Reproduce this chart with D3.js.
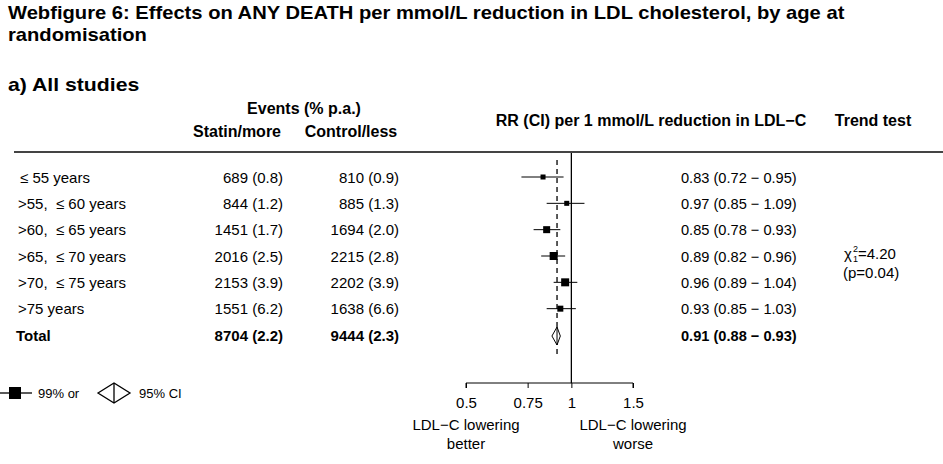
<!DOCTYPE html>
<html>
<head>
<meta charset="utf-8">
<script src="https://cdn.jsdelivr.net/npm/d3@7"></script>
<style>
body { margin: 0; background: #fff; }
svg text { font-family: "Liberation Sans", Arial, sans-serif; fill: #000; }
</style>
</head>
<body>
<svg id="chart" width="943" height="464"></svg>
<script>
// data
var groups = ["\u2264 55 years", ">55, \u00a0\u2264 60 years", ">60, \u00a0\u2264 65 years", ">65, \u00a0\u2264 70 years", ">70, \u00a0\u2264 75 years", ">75 years"];
var statinEvents = ["689 (0.8)", "844 (1.2)", "1451 (1.7)", "2016 (2.5)", "2153 (3.9)", "1551 (6.2)"];
var controlEvents = ["810 (0.9)", "885 (1.3)", "1694 (2.0)", "2215 (2.8)", "2202 (3.9)", "1638 (6.6)"];
var rr = [0.83, 0.97, 0.85, 0.89, 0.96, 0.93];
var ciLow = [0.72, 0.85, 0.78, 0.82, 0.89, 0.85];
var ciHigh = [0.95, 1.09, 0.93, 0.96, 1.04, 1.03];
var boxSize = [5, 5, 7, 8, 8, 6];
var total = { label: "Total", statin: "8704 (2.2)", control: "9444 (2.3)", rr: 0.91, lo: 0.88, hi: 0.93 };
var axisTicks = [0.5, 0.75, 1, 1.5];

var svg = d3.select("#chart");
var x = d3.scaleLog().domain([0.5, 1.5]).range([466, 633]);
var rowY = d3.scalePoint().domain(d3.range(7)).range([177, 335]);

function fmt(v) { return v.toFixed(2); }
function rrText(v, lo, hi) { return fmt(v) + " (" + fmt(lo) + " \u2212 " + fmt(hi) + ")"; }

// text helper, sx stretches horizontally
function label(parent, tx, ty, str, size, opts) {
	opts = opts || {};
	var g = parent.append("g").attr("transform", "translate(" + tx + "," + ty + ") scale(" + (opts.sx || 1) + ",1)");
	var t = g.append("text").attr("x", 0).attr("y", 0).attr("font-size", size)
		.attr("text-anchor", opts.anchor || "start")
		.attr("font-weight", opts.bold ? "bold" : "normal")
		.text(str);
	return t;
}

// titles
label(svg, 8, 19, "Webfigure 6: Effects on ANY DEATH per mmol/L reduction in LDL cholesterol, by age at", 18, { bold: true, sx: 1.12 });
label(svg, 8, 41, "randomisation", 18, { bold: true, sx: 1.12 });
label(svg, 8, 91, "a) All studies", 18, { bold: true, sx: 1.18 });

// column headers
label(svg, 304, 114, "Events (% p.a.)", 16, { bold: true, anchor: "middle" });
label(svg, 237, 137, "Statin/more", 16, { bold: true, anchor: "middle" });
label(svg, 351, 137, "Control/less", 16, { bold: true, anchor: "middle" });
label(svg, 651, 126, "RR (CI) per 1 mmol/L reduction in LDL\u2212C", 16, { bold: true, anchor: "middle" });
label(svg, 873, 126, "Trend test", 16, { bold: true, anchor: "middle" });

svg.append("line").attr("x1", 14).attr("x2", 943).attr("y1", 152).attr("y2", 152)
	.attr("stroke", "#444").attr("stroke-width", 2);

// table rows
groups.forEach(function(g, i) {
	var y = rowY(i) + 5.5;
	label(svg, i == 0 ? 20 : 18, y, g, 15);
	label(svg, 283, y, statinEvents[i], 15, { anchor: "end" });
	label(svg, 399, y, controlEvents[i], 15, { anchor: "end" });
	label(svg, 681, y, rrText(rr[i], ciLow[i], ciHigh[i]), 15, { sx: 0.975 });
});
var ty = rowY(6) + 5.5;
label(svg, 16, ty, total.label, 15, { bold: true });
label(svg, 283, ty, total.statin, 15, { bold: true, anchor: "end" });
label(svg, 399, ty, total.control, 15, { bold: true, anchor: "end" });
label(svg, 681, ty, rrText(total.rr, total.lo, total.hi), 15, { bold: true, sx: 0.975 });

// trend test: chi-squared with stacked super/subscript
svg.append("text").attr("x", 844).attr("y", 259).attr("font-size", 15).text("\u03c7");
svg.append("text").attr("x", 853).attr("y", 252).attr("font-size", 9).text("2");
svg.append("text").attr("x", 853).attr("y", 262).attr("font-size", 9).text("1");
svg.append("text").attr("x", 858).attr("y", 259).attr("font-size", 15).text("=4.20");
svg.append("text").attr("x", 843).attr("y", 278).attr("font-size", 15).text("(p=0.04)");

// reference lines
svg.append("line").attr("x1", x(1)).attr("x2", x(1)).attr("y1", 153).attr("y2", 383)
	.attr("stroke", "#000").attr("stroke-width", 1.3);
svg.append("line").attr("x1", x(total.rr)).attr("x2", x(total.rr)).attr("y1", 160).attr("y2", 354)
	.attr("stroke", "#000").attr("stroke-width", 1.3).attr("stroke-dasharray", "5,4");

// CI lines and boxes
var plot = svg.append("g");
plot.selectAll("line.ci").data(rr).enter().append("line").attr("class", "ci")
	.attr("x1", function(d, i) { return x(ciLow[i]); })
	.attr("x2", function(d, i) { return x(ciHigh[i]); })
	.attr("y1", function(d, i) { return rowY(i); })
	.attr("y2", function(d, i) { return rowY(i); })
	.attr("stroke", "#000").attr("stroke-width", 1);
plot.selectAll("rect.box").data(rr).enter().append("rect").attr("class", "box")
	.attr("x", function(d, i) { return x(d) - boxSize[i] / 2; })
	.attr("y", function(d, i) { return rowY(i) - boxSize[i] / 2; })
	.attr("width", function(d, i) { return boxSize[i]; })
	.attr("height", function(d, i) { return boxSize[i]; })
	.attr("fill", "#000");

// total diamond
var dy = rowY(6) + 1;
var dh = 9;
plot.append("path")
	.attr("d", "M" + x(total.lo) + "," + dy + "L" + x(total.rr) + "," + (dy - dh) + "L" + x(total.hi) + "," + dy + "L" + x(total.rr) + "," + (dy + dh) + "Z")
	.attr("fill", "#fff").attr("stroke", "#000").attr("stroke-width", 1);
plot.append("line").attr("x1", x(total.rr)).attr("x2", x(total.rr)).attr("y1", dy - dh).attr("y2", dy + dh)
	.attr("stroke", "#000");

// axis
var axis = d3.axisBottom(x).tickValues(axisTicks).tickFormat(function(d) { return String(d); }).tickSize(5).tickSizeOuter(0);
var ax = svg.append("g").attr("transform", "translate(0,383)").call(axis);
ax.select(".domain").attr("d", "M" + x(0.5) + ",5V0H" + x(1.5) + "V5").attr("stroke", "#000");
ax.selectAll(".tick line").attr("stroke", "#000");
ax.selectAll(".tick text").attr("font-size", 15).attr("font-family", "Liberation Sans, Arial, sans-serif")
	.attr("fill", "#000").attr("y", 25).attr("dy", null);
label(svg, x(0.5), 430, "LDL\u2212C lowering", 15, { anchor: "middle" });
label(svg, x(0.5), 449, "better", 15, { anchor: "middle" });
label(svg, x(1.5), 430, "LDL\u2212C lowering", 15, { anchor: "middle" });
label(svg, x(1.5), 449, "worse", 15, { anchor: "middle" });

// legend
var lg = svg.append("g");
lg.append("line").attr("x1", 0).attr("x2", 32).attr("y1", 393).attr("y2", 393).attr("stroke", "#000").attr("stroke-width", 1.3);
lg.append("rect").attr("x", 9).attr("y", 387).attr("width", 12).attr("height", 12).attr("fill", "#000");
lg.append("text").attr("x", 38).attr("y", 398).attr("font-size", 13).text("99% or");
lg.append("path").attr("d", "M98,393L114,383L130,393L114,403Z").attr("fill", "#fff").attr("stroke", "#000").attr("stroke-width", 1.3);
lg.append("line").attr("x1", 114).attr("x2", 114).attr("y1", 383).attr("y2", 403).attr("stroke", "#000").attr("stroke-width", 1.3);
lg.append("text").attr("x", 139).attr("y", 398).attr("font-size", 13).text("95% CI");
</script>
</body>
</html>
